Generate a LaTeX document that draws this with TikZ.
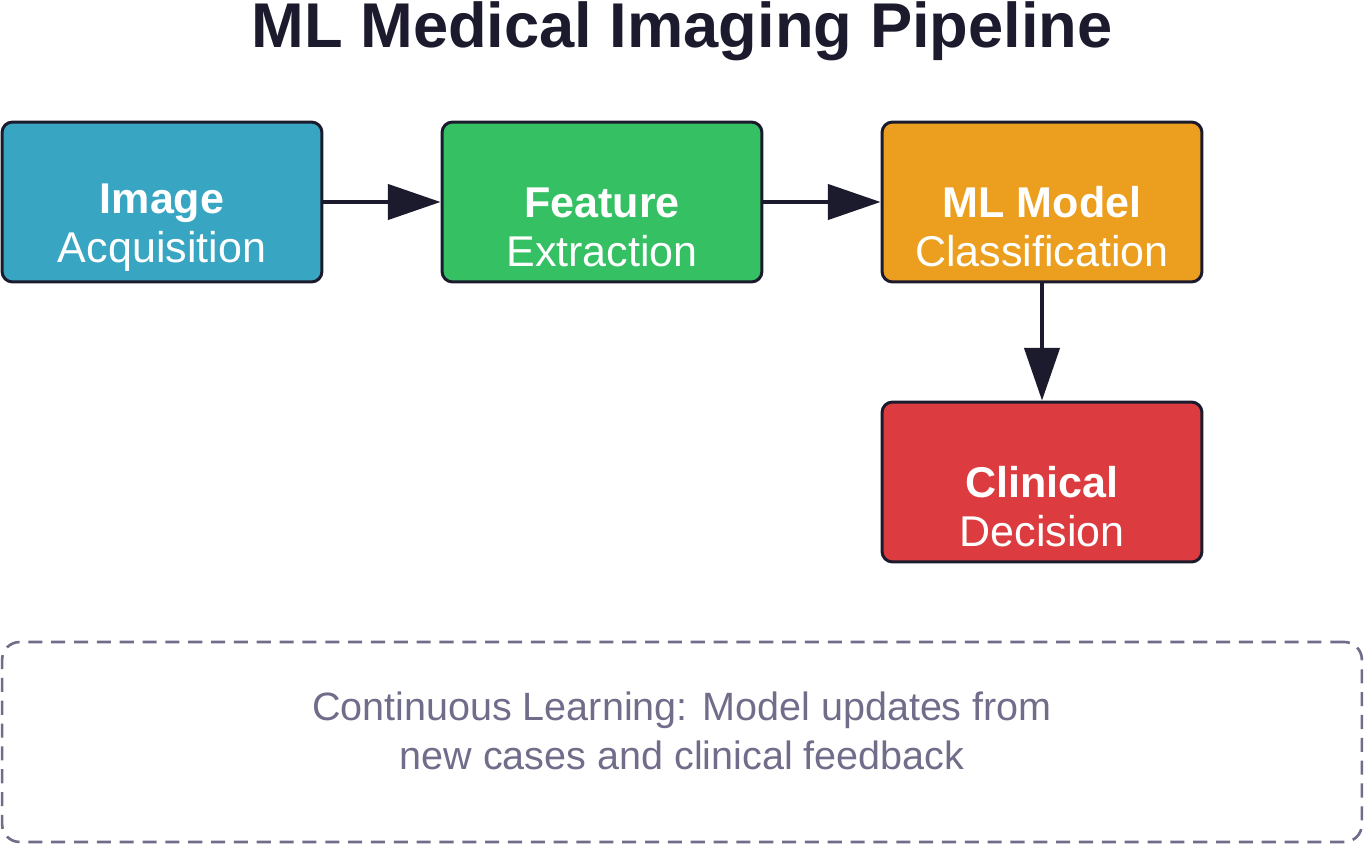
\documentclass[tikz,border=0pt]{standalone}
\usepackage{fontspec}
\setmainfont{Liberation Sans}
\usepackage{tikz}
\usetikzlibrary{positioning,arrows.meta}
\definecolor{ink}{HTML}{1C1B2E}
\definecolor{acqblue}{HTML}{38A6C2}
\definecolor{featgreen}{HTML}{35C063}
\definecolor{modelorange}{HTML}{EC9E1E}
\definecolor{decred}{HTML}{DC3C40}
\definecolor{loopgray}{HTML}{716C8A}
\newcommand{\stagehead}[1]{\rule{0pt}{46pt}\textbf{#1}}
\tikzset{
	stage/.style={draw=ink,line width=1.7pt,rounded corners=6pt,minimum width=6.4cm,
		minimum height=3.2cm,align=center,text=white,font=\fontsize{24.5}{28}\selectfont},
	flow/.style={draw=ink,line width=2.3pt,-{Triangle[length=30pt,width=20pt]}}
}
\begin{document}
\begin{tikzpicture}[x=0.02cm,y=-0.02cm]
	\useasboundingbox (0,0) rectangle (1364,844);
	\node [font=\bfseries\fontsize{36}{40}\selectfont,text=ink] (title) at (682,31) {ML Medical Imaging Pipeline};

	\node [stage,fill=acqblue]     (acq)   at (162,202)  {\stagehead{Image}\\Acquisition};
	\node [stage,fill=featgreen]   (feat)  at (602,202)  {\stagehead{Feature}\\Extraction};
	\node [stage,fill=modelorange] (model) at (1042,202) {\stagehead{ML Model}\\Classification};
	\node [stage,fill=decred]      (dec)   at (1042,482) {\stagehead{Clinical}\\Decision};

	\draw [flow] (acq)  -- (feat);
	\draw [flow] (feat) -- (model);
	\draw [flow] (model) -- (dec);

	\node [draw=loopgray,line width=1.5pt,dashed,dash pattern=on 8pt off 5pt,rounded corners=10pt,
		minimum width=27.2cm,minimum height=4cm,align=center,text=loopgray,
		font=\fontsize{22.5}{28}\selectfont] (loop) at (682,742) {};
	\node [align=center,text=loopgray,font=\fontsize{22.5}{28}\selectfont] (looptext) at (682,731)
		{Continuous Learning: Model updates from\\new cases and clinical feedback};
\end{tikzpicture}
\end{document}
